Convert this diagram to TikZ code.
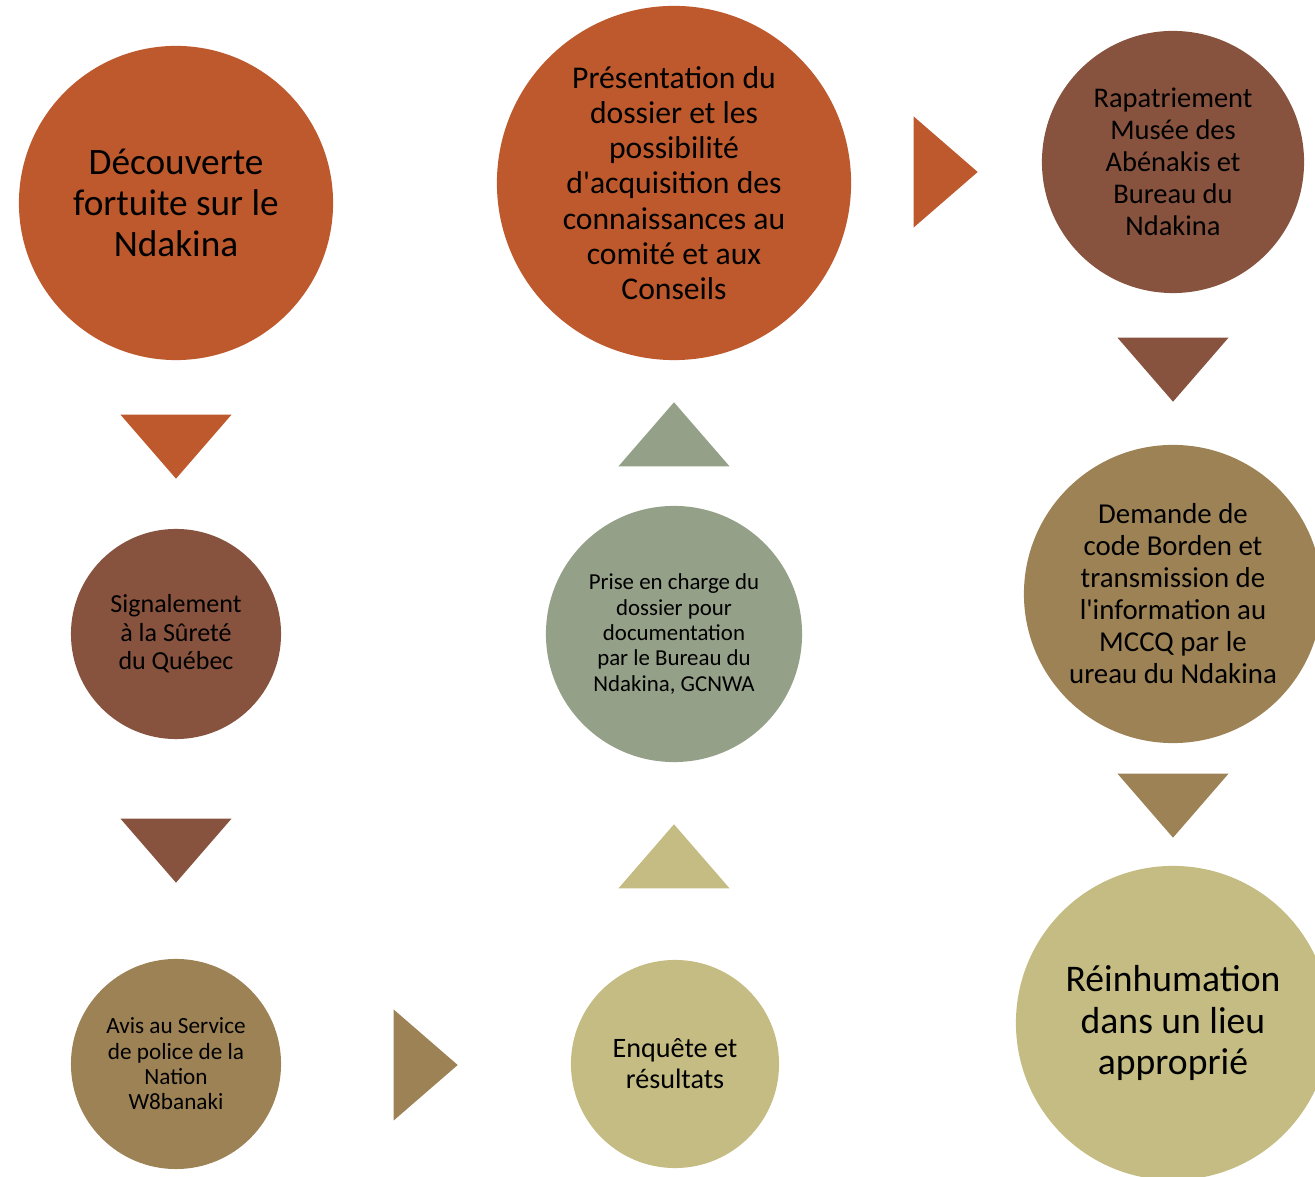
\documentclass[tikz,border=0pt]{standalone}
\usepackage{fontspec}
\setmainfont{Carlito}
\usetikzlibrary{shapes.geometric}
\definecolor{rouille}{HTML}{BD592D}
\definecolor{brun}{HTML}{87533E}
\definecolor{ocre}{HTML}{9D8256}
\definecolor{olive}{HTML}{C4BC82}
\definecolor{salvia}{HTML}{95A088}
\def \fs #1#2{\fontsize{#1}{#2}\selectfont}
\def \ap {\textquotesingle}

\begin{document}
\begin{tikzpicture}[x=0.01cm,y=-0.01cm,
    etape/.style={shape=circle,inner sep=0pt,align=center,text=black},
    fleche/.style={shape=isosceles triangle,isosceles triangle stretches,
      inner sep=0pt,outer sep=0pt,minimum width=1.11cm,minimum height=0.64cm}]

    \useasboundingbox (0,0) rectangle (1315,1177);

    % cercles
    \node[etape,fill=rouille,minimum size=3.14cm,font=\fs{10.6}{11.7}] (C1) at (176,203)
      {D\'ecouverte\\fortuite sur le\\Ndakina};
    \node[etape,fill=brun,minimum size=2.10cm,font=\fs{7.4}{8.1}] (C2) at (176,634)
      {Signalement\\\`a la S\^uret\'e\\du Qu\'ebec};
    \node[etape,fill=ocre,minimum size=2.10cm,font=\fs{6.6}{7.2}] (C3) at (176,1064)
      {Avis au Service\\de police de la\\Nation\\W8banaki};
    \node[etape,fill=olive,minimum size=2.08cm,font=\fs{8.0}{8.8}] (C4) at (675,1064)
      {Enqu\^ete et\\r\'esultats};
    \node[etape,fill=salvia,minimum size=2.56cm,font=\fs{6.5}{7.2}] (C5) at (674,634)
      {Prise en charge du\\dossier pour\\documentation\\par le Bureau du\\Ndakina, GCNWA};
    \node[etape,fill=rouille,minimum size=3.54cm,font=\fs{9.0}{10.0}] (C6) at (674,183)
      {Pr\'esentation du\\dossier et les\\possibilit\'e\\d\ap acquisition des\\connaissances au\\comit\'e et aux\\Conseils};
    \node[etape,fill=brun,minimum size=2.62cm,font=\fs{8.1}{9.1}] (C7) at (1173,162)
      {Rapatriement\\Mus\'ee des\\Ab\'enakis et\\Bureau du\\Ndakina};
    \node[etape,fill=ocre,minimum size=2.98cm,font=\fs{8.2}{9.1}] (C8) at (1173,594)
      {Demande de\\code Borden et\\transmission de\\l\ap information au\\MCCQ par le\\ureau du Ndakina};
    \node[etape,fill=olive,minimum size=3.14cm,font=\fs{10.7}{11.8}] (C9) at (1173,1023)
      {R\'einhumation\\dans un lieu\\appropri\'e};

    % fleches
    \node[fleche,fill=rouille,rotate=-90] (T1) at (176,440) {};
    \node[fleche,fill=brun,rotate=-90] (T2) at (176,844) {};
    \node[fleche,fill=ocre] (T3) at (419,1065) {};
    \node[fleche,fill=olive,rotate=90] (T4) at (674,863) {};
    \node[fleche,fill=salvia,rotate=90] (T5) at (674,441) {};
    \node[fleche,fill=rouille] (T6) at (939,172) {};
    \node[fleche,fill=brun,rotate=-90] (T7) at (1173,363) {};
    \node[fleche,fill=ocre,rotate=-90] (T8) at (1173,799) {};
\end{tikzpicture}
\end{document}
